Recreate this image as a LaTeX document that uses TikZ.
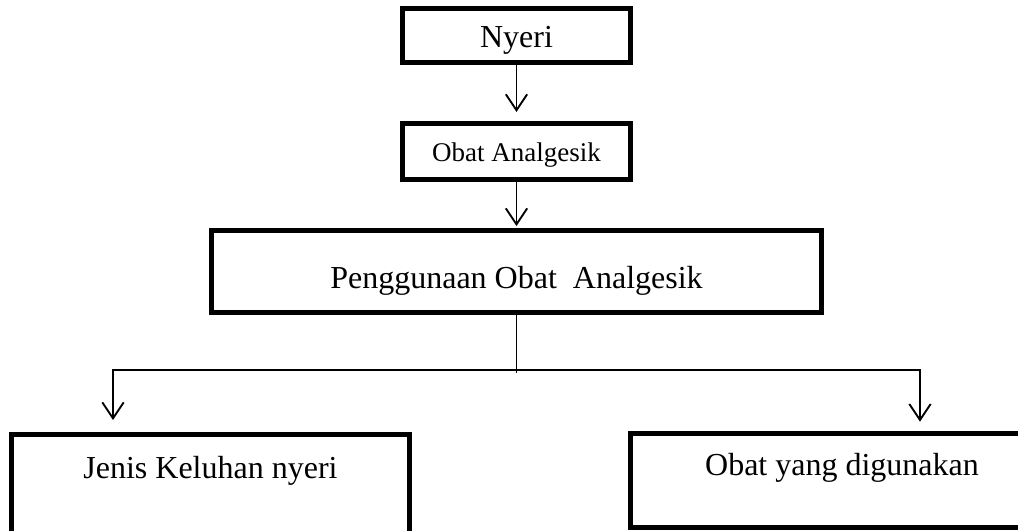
\documentclass[tikz,border=0pt]{standalone}
\usepackage{fontspec}
\setmainfont{Liberation Serif}
\usepackage{tikz}
\usetikzlibrary{arrows.meta,calc,positioning}

\tikzset{
  flowbox/.style={draw,line width=3.75pt,inner xsep=0pt,inner ysep=0pt,anchor=base,font=\fontsize{24}{28}\selectfont},
  thinline/.style={line width=1.4pt},
  downarrow/.style={thinline,-{Straight Barb[length=12pt,width=16pt]}}
}

\begin{document}
\begin{tikzpicture}[x=0.75pt,y=-0.75pt]
  \useasboundingbox (0,0) rectangle (1018,531);
  \clip (0,0) rectangle (1018,531);
  % boxes, placed at their baselines
  \node[flowbox,minimum width=171pt,text height=29.6pt,text depth=10.9pt] (nyeri) at (516.5,48) {Nyeri};
  \node[flowbox,minimum width=171pt,text height=28.9pt,text depth=13.1pt,font=\fontsize{20.25}{24}\selectfont] (obat) at (516.5,162) {Obat Analgesik};
  \node[flowbox,minimum width=457.5pt,text height=43.1pt,text depth=18.4pt] (guna) at (516.5,288) {Penggunaan Obat\ \ Analgesik};
  \node[flowbox,minimum width=298.5pt,text height=32.6pt,text depth=61.5pt] (jenis) at (210.5,478) {Jenis Keluhan nyeri};
  \node[flowbox,minimum width=317.25pt,text height=31.1pt,text depth=39.4pt] (pakai) at (842,475) {Obat yang digunakan};
  % connectors
  \draw[downarrow,shorten >=6.75pt] (nyeri) -- (obat);
  \draw[downarrow,shorten >=1.5pt] (obat) -- (guna);
  \coordinate (joint) at ($(guna.south)+(0,58)$);
  \coordinate (kiri) at (113,370);
  \coordinate (kanan) at (920,370);
  \draw[thinline] (guna.south) -- (joint);
  \draw[thinline,{Straight Barb[length=12pt,width=16pt]}-{Straight Barb[length=12pt,width=16pt]},shorten <=9pt,shorten >=7pt]
    (kiri |- jenis.north) -- (kiri) -- (kanan) -- (kanan |- pakai.north);
\end{tikzpicture}
\end{document}
